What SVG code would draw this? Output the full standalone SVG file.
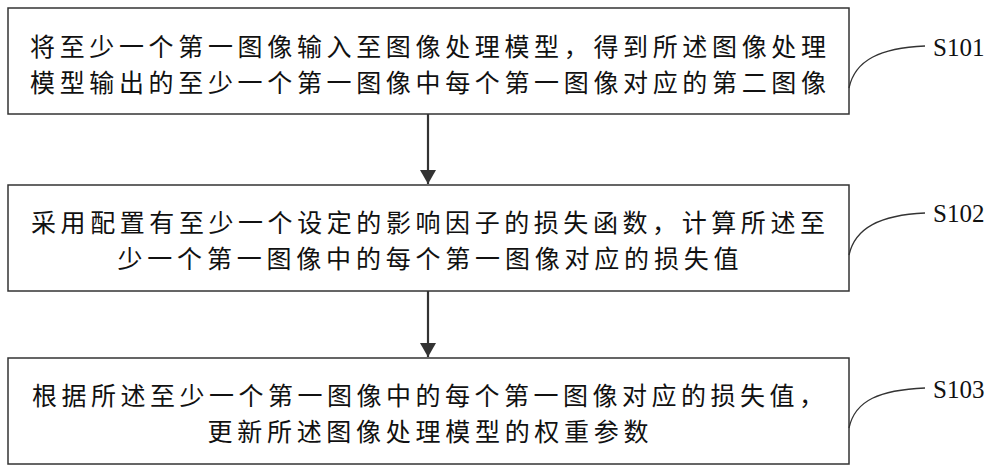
<svg xmlns="http://www.w3.org/2000/svg" width="1000" height="476" viewBox="0 0 1000 476">
<style>
.box{fill:#fff;stroke:#333;stroke-width:1.5}
.t{font-family:"Noto Sans CJK SC",sans-serif;font-size:25px;fill:#111}
.lbl{font-family:"Liberation Serif",serif;font-size:25px;fill:#111}
.c{fill:none;stroke:#333;stroke-width:1.3}
.a{stroke:#333;stroke-width:2.2}
</style>
<defs><marker id="ah" markerWidth="14" markerHeight="16" refX="14" refY="8" orient="auto" markerUnits="userSpaceOnUse"><path d="M0,0 L14,8 L0,16 Z" fill="#333"/></marker></defs>
<rect width="1000" height="476" fill="#fff"/>
<g id="n1"><rect class="box" x="8" y="8" width="841" height="106"/>
<text class="t" x="428" y="56" text-anchor="middle" textLength="796">将至少一个第一图像输入至图像处理模型，得到所述图像处理</text>
<text class="t" x="428" y="92" text-anchor="middle" textLength="796">模型输出的至少一个第一图像中每个第一图像对应的第二图像</text></g>
<g id="n2"><rect class="box" x="8" y="185" width="841" height="106"/>
<text class="t" x="428" y="232" text-anchor="middle" textLength="794">采用配置有至少一个设定的影响因子的损失函数，计算所述至</text>
<text class="t" x="428" y="268" text-anchor="middle" textLength="621">少一个第一图像中的每个第一图像对应的损失值</text></g>
<g id="n3"><rect class="box" x="8" y="358" width="841" height="106"/>
<text class="t" x="428" y="405" text-anchor="middle" textLength="792">根据所述至少一个第一图像中的每个第一图像对应的损失值，</text>
<text class="t" x="428" y="441" text-anchor="middle" textLength="441">更新所述图像处理模型的权重参数</text></g>
<g id="labels">
<text class="lbl" x="933" y="56">S101</text>
<text class="lbl" x="933" y="222">S102</text>
<text class="lbl" x="933" y="398">S103</text></g>
<g id="connectors">
<line class="a" x1="428" y1="114" x2="428" y2="184" marker-end="url(#ah)"/>
<line class="a" x1="428" y1="291" x2="428" y2="357" marker-end="url(#ah)"/>
<path class="c" d="M849,88 C855,60 880,48 925,46"/>
<path class="c" d="M849,255 C855,228 880,215 925,213"/>
<path class="c" d="M849,428 C855,400 880,390 925,388"/>
</g>
</svg>
